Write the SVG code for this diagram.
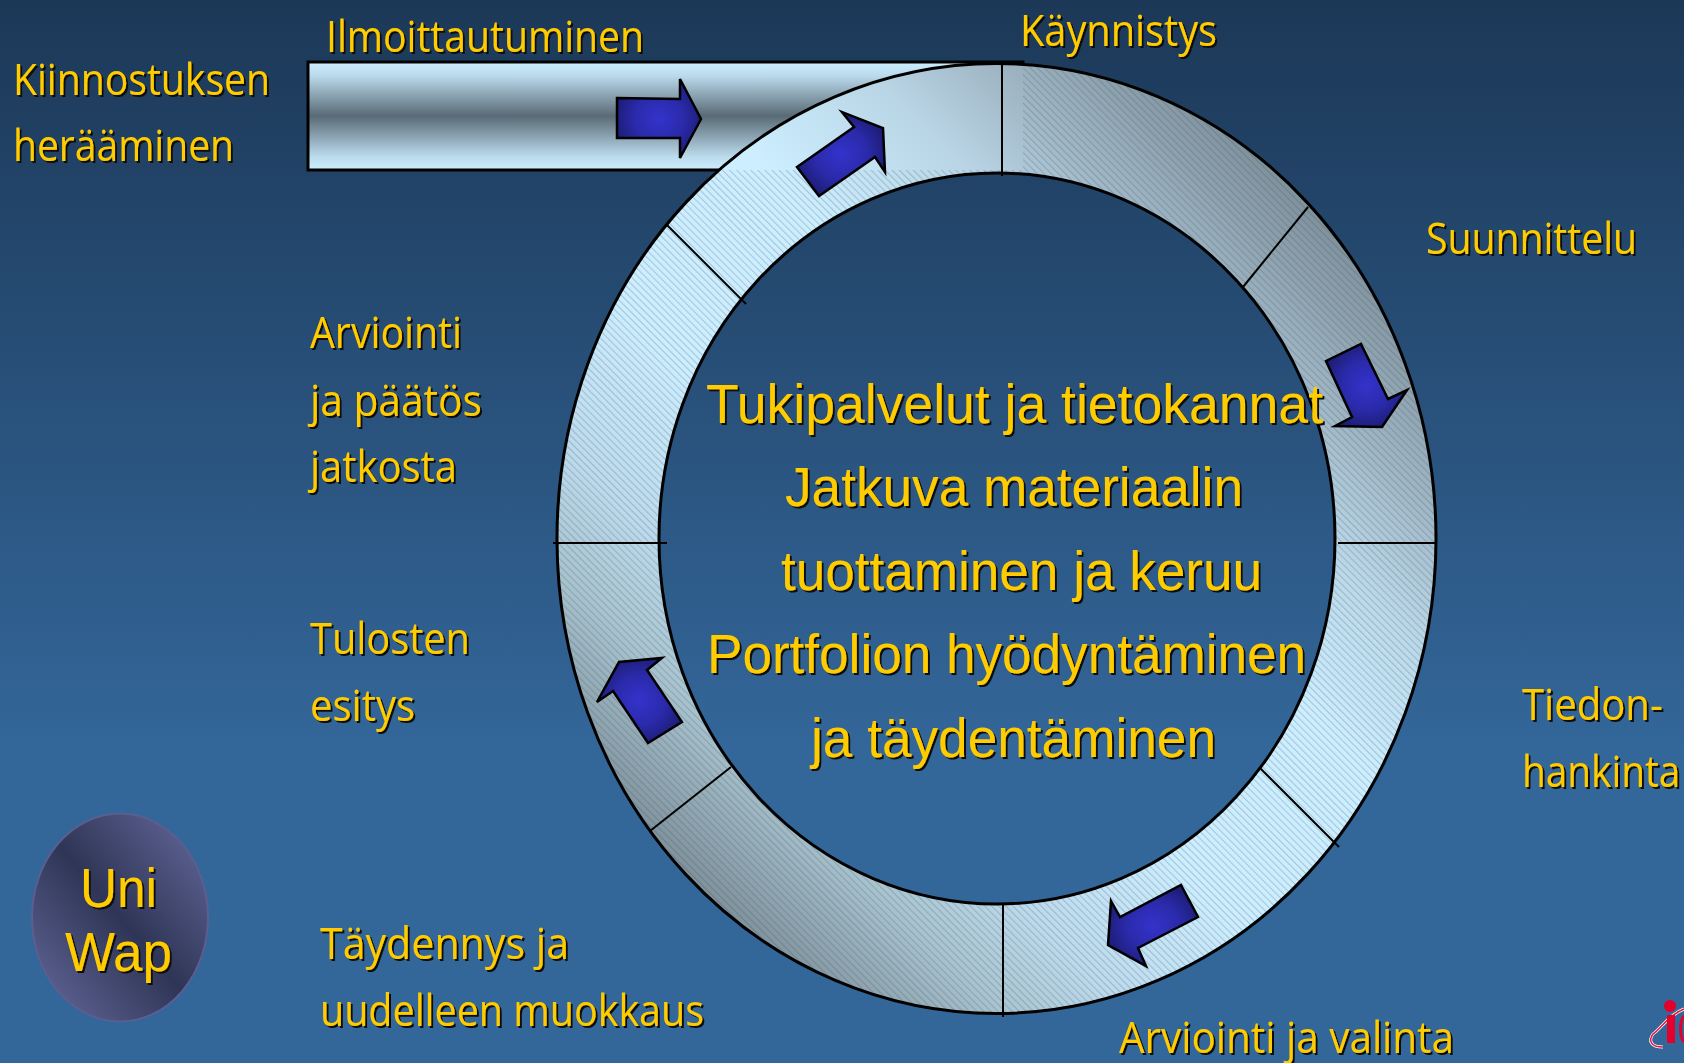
<svg xmlns="http://www.w3.org/2000/svg" width="1684" height="1063" viewBox="0 0 1684 1063">
<style>
.lab{font-family:"Open Sans","Liberation Sans",sans-serif;font-size:44px;font-weight:400;fill:#ffcc00}
.main{font-family:"Liberation Sans",Arial,sans-serif;font-size:56px;fill:#ffcc00}
.spoke{stroke:#000;stroke-width:2;fill:none}
.edge{stroke:#000;stroke-width:3;fill:none}
.arw{fill:url(#ag);stroke:#000;stroke-width:2.5;stroke-linejoin:miter}
</style>
<defs>
<linearGradient id="bg" x1="0" y1="0" x2="0" y2="1"><stop offset="0" stop-color="#1c3857"/><stop offset=".7" stop-color="#336699"/><stop offset="1" stop-color="#336699"/></linearGradient>
<linearGradient id="bar" x1="0" y1="0" x2="0" y2="1"><stop offset="0" stop-color="#cceeff"/><stop offset=".12" stop-color="#bcdcee"/><stop offset=".5" stop-color="#596a75"/><stop offset=".88" stop-color="#bcdcee"/><stop offset="1" stop-color="#cceeff"/></linearGradient>
<linearGradient id="rg" gradientUnits="userSpaceOnUse" x1="673" y1="863" x2="1320.5" y2="215.5">
<stop offset="0" stop-color="#7f919b"/><stop offset=".139" stop-color="#a9c4cf"/><stop offset=".235" stop-color="#bddaec"/><stop offset=".394" stop-color="#cceeff"/><stop offset=".61" stop-color="#cceeff"/><stop offset=".763" stop-color="#b9d5e5"/><stop offset=".84" stop-color="#a5bccb"/><stop offset="1" stop-color="#7f919b"/></linearGradient>
<radialGradient id="ag" cx=".5" cy=".5" r=".6"><stop offset="0" stop-color="#3333cc"/><stop offset=".5" stop-color="#2a2aaa"/><stop offset="1" stop-color="#191966"/></radialGradient>
<linearGradient id="eg" x1="1" y1="0" x2="0" y2="1"><stop offset=".1" stop-color="#5c6090"/><stop offset=".5" stop-color="#2f3556"/><stop offset=".9" stop-color="#5c6090"/></linearGradient>
<pattern id="hatch" width="5" height="5" patternUnits="userSpaceOnUse" patternTransform="rotate(-45)"><rect width="1.1" height="5" fill="#2a4a60" opacity=".24"/></pattern>
<clipPath id="noBar"><path clip-rule="evenodd" d="M0 0H1684V1063H0ZM308 62V170H1023V62Z"/></clipPath>
<path id="ring" fill-rule="evenodd" d="M557 538.5A439.5 475 0 1 1 1436 538.5A439.5 475 0 1 1 557 538.5ZM659 538.5A338 365.5 0 1 0 1335 538.5A338 365.5 0 1 0 659 538.5Z"/>
<filter id="ts" x="-5%" y="-5%" width="110%" height="115%"><feDropShadow dx="2" dy="2" stdDeviation="0" flood-color="#0a0a0a"/></filter>
</defs>
<rect id="background" width="1684" height="1063" fill="url(#bg)"/>
<g id="entry-bar"><rect x="308" y="62" width="715" height="108" fill="url(#bar)" stroke="#000" stroke-width="3"/></g>
<g id="ring-cycle">
<use href="#ring" fill="url(#rg)"/>
<g clip-path="url(#noBar)"><use href="#ring" fill="url(#hatch)"/></g>
<ellipse class="edge" cx="996.5" cy="538.5" rx="439.5" ry="475"/>
<ellipse class="edge" cx="997" cy="538.5" rx="338" ry="365.5"/>
</g>
<g id="connectors">
<line class="spoke" x1="1002" y1="62" x2="1002" y2="176"/>
<line class="spoke" x1="1308" y1="207" x2="1243" y2="287"/>
<line class="spoke" x1="1338" y1="543" x2="1436" y2="543"/>
<line class="spoke" x1="1260" y1="768" x2="1339" y2="847"/>
<line class="spoke" x1="1003" y1="904" x2="1003" y2="1017"/>
<line class="spoke" x1="731" y1="767" x2="650" y2="831"/>
<line class="spoke" x1="553" y1="543" x2="667" y2="543"/>
<line class="spoke" x1="666" y1="224" x2="746" y2="304"/>
</g>
<g id="arrow-entry"><polygon class="arw" points="617,98 680,99 680,79 701,119 680,158 680,138 617,138"/></g>
<g id="arrow-start"><polygon class="arw" points="797,167 854,127 842,112 883,128 885,172 875,157 819,196"/></g>
<g id="arrow-plan"><polygon class="arw" points="1361,344 1388,399 1407,390 1382,427 1335,426 1352,417 1326,361"/></g>
<g id="arrow-select"><polygon class="arw" points="1181,885 1198,917 1138,948 1146,966 1108,945 1111,901 1120,917"/></g>
<g id="arrow-results"><polygon class="arw" points="682,722 648,743 613,691 597,702 619,662 662,658 647,670"/></g>
<g id="uniwap">
<ellipse cx="120" cy="917.5" rx="88" ry="104" fill="url(#eg)" stroke="#5a5f90" stroke-width="2"/>
<text class="main" x="80" y="907" textLength="77" lengthAdjust="spacingAndGlyphs" filter="url(#ts)">Uni</text>
<text class="main" x="65" y="971" textLength="107" lengthAdjust="spacingAndGlyphs" filter="url(#ts)">Wap</text>
</g>
<g id="labels" filter="url(#ts)">
<text class="lab" x="326" y="52" textLength="318" lengthAdjust="spacingAndGlyphs">Ilmoittautuminen</text>
<text class="lab" x="1020" y="46" textLength="197" lengthAdjust="spacingAndGlyphs">Käynnistys</text>
<text class="lab" x="13" y="95" textLength="257" lengthAdjust="spacingAndGlyphs">Kiinnostuksen</text>
<text class="lab" x="13" y="161" textLength="221" lengthAdjust="spacingAndGlyphs">herääminen</text>
<text class="lab" x="1426" y="254" textLength="211" lengthAdjust="spacingAndGlyphs">Suunnittelu</text>
<text class="lab" x="310" y="348" textLength="152" lengthAdjust="spacingAndGlyphs">Arviointi</text>
<text class="lab" x="310" y="416" textLength="172" lengthAdjust="spacingAndGlyphs">ja päätös</text>
<text class="lab" x="310" y="482" textLength="147" lengthAdjust="spacingAndGlyphs">jatkosta</text>
<text class="lab" x="310" y="654" textLength="160" lengthAdjust="spacingAndGlyphs">Tulosten</text>
<text class="lab" x="310" y="721" textLength="105" lengthAdjust="spacingAndGlyphs">esitys</text>
<text class="lab" transform="translate(1522 720) scale(.88 1)" textLength="160" lengthAdjust="spacingAndGlyphs">Tiedon-</text>
<text class="lab" transform="translate(1522 787) scale(.88 1)" textLength="180" lengthAdjust="spacingAndGlyphs">hankinta</text>
<text class="lab" x="320" y="959" textLength="249" lengthAdjust="spacingAndGlyphs">Täydennys ja</text>
<text class="lab" x="320" y="1026" textLength="384" lengthAdjust="spacingAndGlyphs">uudelleen muokkaus</text>
<text class="lab" x="1119" y="1053" textLength="335" lengthAdjust="spacingAndGlyphs">Arviointi ja valinta</text>
</g>
<g id="center-text" filter="url(#ts)">
<text class="main" x="706" y="423" textLength="617" lengthAdjust="spacingAndGlyphs">Tukipalvelut ja tietokannat</text>
<text class="main" x="785" y="506" textLength="458" lengthAdjust="spacingAndGlyphs">Jatkuva materiaalin</text>
<text class="main" x="781" y="590" textLength="481" lengthAdjust="spacingAndGlyphs">tuottaminen ja keruu</text>
<text class="main" x="707" y="673" textLength="599" lengthAdjust="spacingAndGlyphs">Portfolion hyödyntäminen</text>
<text class="main" x="811" y="757" textLength="405" lengthAdjust="spacingAndGlyphs">ja täydentäminen</text>
</g>
<g id="logo">
<path d="M1684 1009C1668 1015 1660 1030 1653 1034C1648 1041 1651 1047 1663 1047" fill="none" stroke="#fff" stroke-width="3"/>
<path d="M1684 1009C1668 1015 1660 1030 1653 1034C1648 1041 1651 1047 1663 1047" fill="none" stroke="#e4173f" stroke-width="1.5"/>
<circle cx="1670" cy="1006" r="6" fill="#e4002b"/>
<rect x="1667" y="1015" width="8" height="28" fill="#e4002b"/>
<path d="M1684 1016C1680 1020 1679 1036 1684 1042" fill="none" stroke="#e4002b" stroke-width="3"/>
</g>
</svg>
